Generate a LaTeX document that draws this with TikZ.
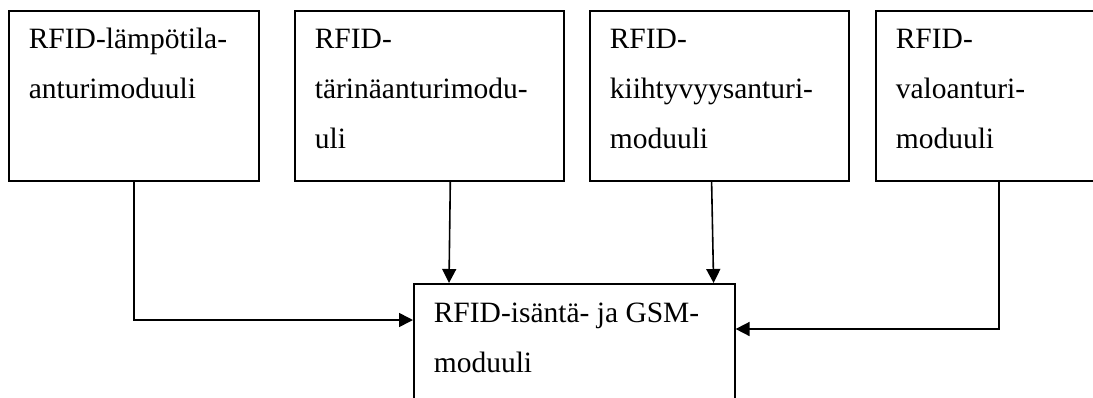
\documentclass[tikz,border=0pt]{standalone}
\usepackage{fontspec}
\setmainfont{Liberation Serif}
\usetikzlibrary{arrows.meta}

\begin{document}
\begin{tikzpicture}[x=1pt, y=-1pt,
        modul/.style={draw, line width=1.6pt, rectangle, anchor=north west,
            inner xsep=20pt, inner ysep=0pt, align=flush left,
            font=\fontsize{29.5}{50}\selectfont, text height=38pt, text depth=132pt},
        arr/.style={line width=1.6pt, -{Triangle[length=14pt, width=14pt]}}]
        \useasboundingbox (0,0) rectangle (1093,397);
        \clip (0,0) rectangle (1093,397);
        \node[modul, text width=210pt] (lampo) at (8,10) {RFID-lämpötila-\\anturimoduuli};
        \node[modul, text width=229pt] (tarina) at (294,10) {RFID-\\tärinäanturimodu-\\uli};
        \node[modul, text width=219pt] (kiiht) at (589,10) {RFID-\\kiihtyvyysanturi-\\moduuli};
        \node[modul, text width=220pt] (valo) at (875,10) {RFID-\\valoanturi-\\moduuli};
        \node[modul, text width=281pt, text height=39pt, text depth=118pt] (isanta) at (413,283) {RFID-isäntä- ja GSM-\\moduuli};
        \draw[arr] (lampo.south) |- ([yshift=-37pt]isanta.north west);
        \draw[arr] ([xshift=21pt]tarina.south) -- ([xshift=36pt]isanta.north west);
        \draw[arr] ([xshift=-138pt]kiiht.south east) -- ([xshift=-22pt]isanta.north east);
        \draw[arr] ([xshift=124pt]valo.south west) |- ([yshift=-46pt]isanta.north east);
\end{tikzpicture}
\end{document}
